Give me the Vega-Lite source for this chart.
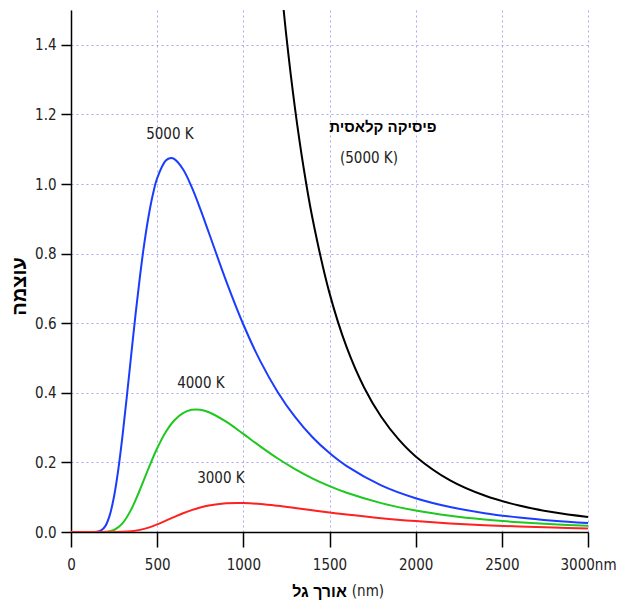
{
  "$schema": "https://vega.github.io/schema/vega-lite/v6.json",
  "width": 517,
  "height": 522,
  "autosize": "none",
  "padding": {"left": 71, "top": 10, "right": 42, "bottom": 74},
  "background": "white",
  "config": {"view": {"stroke": null}, "font": "DejaVu Sans Condensed, Liberation Sans, sans-serif"},
  "datasets": {
    "curves": [
      {"T": "5000", "wl": 0, "I": 0}, {"T": "5000", "wl": 100, "I": 0}, {"T": "5000", "wl": 150, "I": 0.0006}, {"T": "5000", "wl": 175, "I": 0.0044}, {"T": "5000", "wl": 200, "I": 0.0176}, {"T": "5000", "wl": 225, "I": 0.0484}, {"T": "5000", "wl": 250, "I": 0.1027}, {"T": "5000", "wl": 275, "I": 0.1815}, {"T": "5000", "wl": 300, "I": 0.281}, {"T": "5000", "wl": 325, "I": 0.3939}, {"T": "5000", "wl": 350, "I": 0.5118}, {"T": "5000", "wl": 375, "I": 0.6273}, {"T": "5000", "wl": 400, "I": 0.734}, {"T": "5000", "wl": 425, "I": 0.828}, {"T": "5000", "wl": 450, "I": 0.9067}, {"T": "5000", "wl": 475, "I": 0.9696}, {"T": "5000", "wl": 500, "I": 1.0165}, {"T": "5000", "wl": 550, "I": 1.0673}, {"T": "5000", "wl": 580, "I": 1.0745}, {"T": "5000", "wl": 600, "I": 1.0714}, {"T": "5000", "wl": 650, "I": 1.0423}, {"T": "5000", "wl": 700, "I": 0.9916}, {"T": "5000", "wl": 750, "I": 0.9286}, {"T": "5000", "wl": 800, "I": 0.86}, {"T": "5000", "wl": 900, "I": 0.7217}, {"T": "5000", "wl": 1000, "I": 0.5963}, {"T": "5000", "wl": 1100, "I": 0.4896}, {"T": "5000", "wl": 1200, "I": 0.4018}, {"T": "5000", "wl": 1300, "I": 0.3305}, {"T": "5000", "wl": 1400, "I": 0.273}, {"T": "5000", "wl": 1500, "I": 0.2267}, {"T": "5000", "wl": 1600, "I": 0.1892}, {"T": "5000", "wl": 1800, "I": 0.1341}, {"T": "5000", "wl": 2000, "I": 0.0972}, {"T": "5000", "wl": 2200, "I": 0.0719}, {"T": "5000", "wl": 2400, "I": 0.0542}, {"T": "5000", "wl": 2600, "I": 0.0416}, {"T": "5000", "wl": 2800, "I": 0.0324}, {"T": "5000", "wl": 3000, "I": 0.0256},
      {"T": "4000", "wl": 0, "I": 0}, {"T": "4000", "wl": 150, "I": 0}, {"T": "4000", "wl": 200, "I": 0.0005}, {"T": "4000", "wl": 250, "I": 0.0058}, {"T": "4000", "wl": 300, "I": 0.0255}, {"T": "4000", "wl": 350, "I": 0.0655}, {"T": "4000", "wl": 400, "I": 0.1214}, {"T": "4000", "wl": 450, "I": 0.183}, {"T": "4000", "wl": 500, "I": 0.2405}, {"T": "4000", "wl": 550, "I": 0.2874}, {"T": "4000", "wl": 600, "I": 0.3212}, {"T": "4000", "wl": 650, "I": 0.3419}, {"T": "4000", "wl": 700, "I": 0.3511}, {"T": "4000", "wl": 725, "I": 0.3521}, {"T": "4000", "wl": 750, "I": 0.3511}, {"T": "4000", "wl": 800, "I": 0.3441}, {"T": "4000", "wl": 900, "I": 0.317}, {"T": "4000", "wl": 1000, "I": 0.2818}, {"T": "4000", "wl": 1100, "I": 0.2453}, {"T": "4000", "wl": 1200, "I": 0.2111}, {"T": "4000", "wl": 1300, "I": 0.1807}, {"T": "4000", "wl": 1400, "I": 0.1542}, {"T": "4000", "wl": 1500, "I": 0.1317}, {"T": "4000", "wl": 1600, "I": 0.1126}, {"T": "4000", "wl": 1800, "I": 0.083}, {"T": "4000", "wl": 2000, "I": 0.062}, {"T": "4000", "wl": 2200, "I": 0.047}, {"T": "4000", "wl": 2400, "I": 0.0361}, {"T": "4000", "wl": 2600, "I": 0.0282}, {"T": "4000", "wl": 2800, "I": 0.0222}, {"T": "4000", "wl": 3000, "I": 0.0178},
      {"T": "3000", "wl": 0, "I": 0}, {"T": "3000", "wl": 200, "I": 0}, {"T": "3000", "wl": 250, "I": 0.00005}, {"T": "3000", "wl": 300, "I": 0.0005}, {"T": "3000", "wl": 350, "I": 0.0021}, {"T": "3000", "wl": 400, "I": 0.0061}, {"T": "3000", "wl": 450, "I": 0.0127}, {"T": "3000", "wl": 500, "I": 0.0219}, {"T": "3000", "wl": 550, "I": 0.0325}, {"T": "3000", "wl": 600, "I": 0.0434}, {"T": "3000", "wl": 650, "I": 0.0539}, {"T": "3000", "wl": 700, "I": 0.063}, {"T": "3000", "wl": 750, "I": 0.0705}, {"T": "3000", "wl": 800, "I": 0.0762}, {"T": "3000", "wl": 900, "I": 0.0825}, {"T": "3000", "wl": 966, "I": 0.0836}, {"T": "3000", "wl": 1000, "I": 0.0833}, {"T": "3000", "wl": 1100, "I": 0.0804}, {"T": "3000", "wl": 1200, "I": 0.0752}, {"T": "3000", "wl": 1300, "I": 0.069}, {"T": "3000", "wl": 1400, "I": 0.0625}, {"T": "3000", "wl": 1500, "I": 0.0561}, {"T": "3000", "wl": 1600, "I": 0.0501}, {"T": "3000", "wl": 1800, "I": 0.0396}, {"T": "3000", "wl": 2000, "I": 0.0313}, {"T": "3000", "wl": 2200, "I": 0.0247}, {"T": "3000", "wl": 2400, "I": 0.0197}, {"T": "3000", "wl": 2600, "I": 0.0158}, {"T": "3000", "wl": 2800, "I": 0.0128}, {"T": "3000", "wl": 3000, "I": 0.0104},
      {"T": "classical", "wl": 1200, "I": 1.676}, {"T": "classical", "wl": 1250, "I": 1.4234}, {"T": "classical", "wl": 1300, "I": 1.2167}, {"T": "classical", "wl": 1350, "I": 1.0462}, {"T": "classical", "wl": 1400, "I": 0.9046}, {"T": "classical", "wl": 1500, "I": 0.6864}, {"T": "classical", "wl": 1600, "I": 0.5303}, {"T": "classical", "wl": 1700, "I": 0.4161}, {"T": "classical", "wl": 1800, "I": 0.331}, {"T": "classical", "wl": 1900, "I": 0.2667}, {"T": "classical", "wl": 2000, "I": 0.2172}, {"T": "classical", "wl": 2200, "I": 0.1483}, {"T": "classical", "wl": 2400, "I": 0.1047}, {"T": "classical", "wl": 2600, "I": 0.076}, {"T": "classical", "wl": 2800, "I": 0.0565}, {"T": "classical", "wl": 3000, "I": 0.0429}
    ],
    "labels": [
      {"wl": 574, "I": 1.144, "text": "5000 K"},
      {"wl": 754, "I": 0.428, "text": "4000 K"},
      {"wl": 870, "I": 0.155, "text": "3000 K"},
      {"wl": 1729, "I": 1.075, "text": "(5000 K)"},
      {"wl": 1723, "I": -0.17, "text": "(nm)"}
    ],
    "boldlabels": [
      {"wl": 1810, "I": 1.164, "text": "פיסיקה קלאסית"}
    ]
  },
  "layer": [
    {
      "data": {"name": "curves"},
      "mark": {"type": "line", "interpolate": "catmull-rom", "strokeWidth": 2, "clip": true},
      "encoding": {
        "x": {
          "field": "wl", "type": "quantitative",
          "scale": {"domain": [0, 3000], "nice": false},
          "axis": {
            "title": "אורך גל",
            "titleFont": "Liberation Sans", "titleFontWeight": "bold", "titleFontSize": 16, "titleColor": "#000",
            "titleX": 248, "titleY": 59, "titleBaseline": "middle", "titleAlign": "center",
            "values": [0, 500, 1000, 1500, 2000, 2500, 3000],
            "format": "d",
            "labelExpr": "datum.value == 3000 ? '3000nm' : datum.label",
            "labelFontSize": 15, "labelColor": "#222",
            "labelPadding": 10, "labelFlush": false, "labelOverlap": false,
            "tickSize": 15, "tickColor": "#000", "tickWidth": 1.5,
            "domainColor": "#000", "domainWidth": 1.5,
            "grid": true, "gridColor": "#a8a8f5", "gridDash": [2, 3], "gridWidth": 1
          }
        },
        "y": {
          "field": "I", "type": "quantitative",
          "scale": {"domain": [0, 1.5], "nice": false},
          "axis": {
            "title": "עוצמה",
            "titleFont": "Liberation Sans", "titleFontWeight": "bold", "titleFontSize": 20, "titleColor": "#000",
            "titleAngle": -90, "titleX": -52, "titleY": 276, "titleBaseline": "middle", "titleAlign": "center",
            "values": [0, 0.2, 0.4, 0.6, 0.8, 1.0, 1.2, 1.4],
            "format": ".1f",
            "labelFontSize": 15, "labelColor": "#222",
            "labelPadding": 5, "labelOverlap": false, "labelFlush": false,
            "tickSize": 10, "tickColor": "#000", "tickWidth": 1.5,
            "domainColor": "#000", "domainWidth": 1.5,
            "grid": true, "gridColor": "#a8a8f5", "gridDash": [2, 3], "gridWidth": 1
          }
        },
        "color": {
          "field": "T", "type": "nominal",
          "scale": {"domain": ["5000", "4000", "3000", "classical"], "range": ["#1a3cff", "#1ec81e", "#ff2020", "#000000"]},
          "legend": null
        }
      }
    },
    {
      "data": {"name": "labels"},
      "mark": {"type": "text", "fontSize": 15, "color": "#222", "align": "center", "baseline": "middle"},
      "encoding": {
        "x": {"field": "wl", "type": "quantitative"},
        "y": {"field": "I", "type": "quantitative"},
        "text": {"field": "text"}
      }
    },
    {
      "data": {"name": "boldlabels"},
      "mark": {"type": "text", "font": "Liberation Sans", "fontWeight": "bold", "fontSize": 15, "color": "#000", "align": "center", "baseline": "middle"},
      "encoding": {
        "x": {"field": "wl", "type": "quantitative"},
        "y": {"field": "I", "type": "quantitative"},
        "text": {"field": "text"}
      }
    }
  ]
}
